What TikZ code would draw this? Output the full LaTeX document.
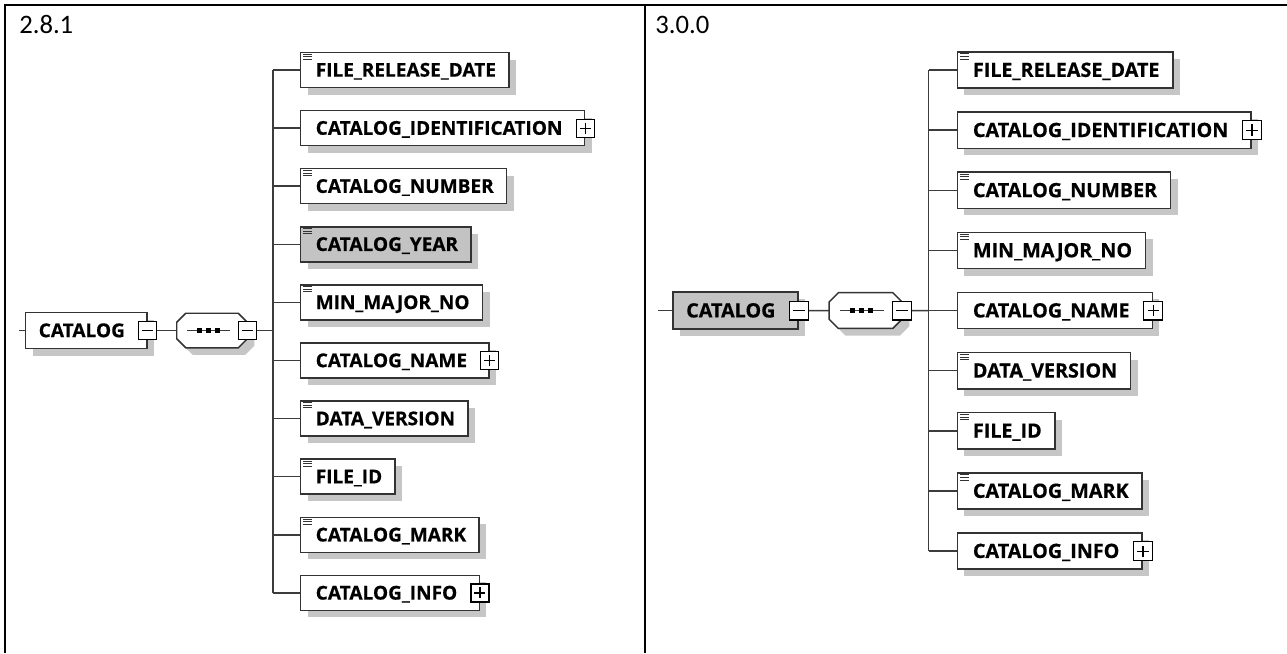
\documentclass[tikz,border=0pt]{standalone}
\usepackage{fontspec}
\setmainfont{Carlito}
\newfontfamily\boxfont{Open Sans}[BoldFeatures={FakeBold=0.5}]
\usetikzlibrary{shadows}
\definecolor{bordc}{HTML}{333333}
\definecolor{connc}{HTML}{3C3C3C}
\definecolor{shadc}{HTML}{C6C6C6}
\definecolor{greyfill}{HTML}{C3C3C3}
\tikzset{
  conn/.style={draw=connc, line width=1.1pt},
  myshadow/.style={drop shadow={shadow xshift=5.25pt, shadow yshift=-5.25pt, fill=shadc, opacity=1, draw=none}},
  elem/.style={draw=bordc, line width=1.1pt, fill=white, anchor=west, inner xsep=0pt, inner ysep=0pt,
    minimum height=26.25pt, text height=10pt, text depth=0pt,
    font=\boxfont\bfseries\fontsize{14.3}{16}\selectfont, myshadow},
  iconbox/.style={draw=black, line width=0.9pt, fill=white, minimum size=13.5pt, inner sep=0pt},
  iconsign/.style={draw=black, line width=0.9pt},
  leafln/.style={draw=bordc, line width=0.6pt},
  seqbox/.style={rectangle, minimum width=52.5pt, minimum height=25.5pt, inner sep=0pt},
  octo/.style={draw=bordc, line width=1.1pt, fill=white},
  octoshadow/.style={fill=shadc},
  frameln/.style={draw=black, line width=1.5pt},
  title/.style={anchor=base west, font=\fontsize{20}{24}\selectfont, inner sep=0pt},
}
\newcommand\minusmark[1]{%
  \node[iconbox] (#1-m) at (#1.east) {};
  \draw[iconsign] ([shift={(-5.5,0)}]#1-m.center) -- ([shift={(5.5,0)}]#1-m.center);}
\newcommand\plusmark[1]{%
  \node[iconbox] (#1-p) at (#1.east) {};
  \draw[iconsign] ([shift={(-5.5,0)}]#1-p.center) -- ([shift={(5.5,0)}]#1-p.center)
                  ([shift={(0,-5.5)}]#1-p.center) -- ([shift={(0,5.5)}]#1-p.center);}
\newcommand\leafmark[1]{%
  \foreach \d in {2.5,5,7.5}{\draw[leafln] ([shift={(3,\d)}]#1.north west) -- ++(9,0);}}
\newcommand\leafel[4]{%
  \node[elem, fill=#4] (#1) at (300,#2) {\hspace*{11.25pt}#3\hspace*{9.75pt}};
  \leafmark{#1}}
\newcommand\plusel[3]{%
  \node[elem] (#1) at (300,#2) {\hspace*{11.25pt}#3\hspace*{16.5pt}};
  \plusmark{#1}}
% octagon outline around a named node, shifted by (#2,#3)
\newcommand\octopath[3]{%
  ([shift={(9+#2,#3)}]#1.north west) -- ([shift={(-9+#2,#3)}]#1.north east) --
  ([shift={(#2,9+#3)}]#1.north east) -- ([shift={(#2,-9+#3)}]#1.south east) --
  ([shift={(-9+#2,#3)}]#1.south east) -- ([shift={(9+#2,#3)}]#1.south west) --
  ([shift={(#2,-9+#3)}]#1.south west) -- ([shift={(#2,9+#3)}]#1.north west) -- cycle}
\newcommand\seqdraw[1]{%
  \fill[octoshadow] \octopath{#1}{7}{7};
  \draw[octo] \octopath{#1}{0}{0};
  \draw[conn] ([shift={(-25,0)}]#1.center) -- ([shift={(18,0)}]#1.center);
  \foreach \dx in {-13,-4,5}{\fill[black] ([shift={(\dx-2.5,-2.5)}]#1.center) rectangle ([shift={(\dx+2.5,2.5)}]#1.center);}}

\begin{document}
\begin{tikzpicture}[x=0.75pt,y=-0.75pt]
\useasboundingbox (0,0) rectangle (1287,653);
\draw[frameln] (4,5) -- (1287,5);
\draw[frameln] (5,5) -- (5,653);
\draw[frameln] (645,5) -- (645,653);
\node[title] (t1) at (19,33) {2.8.1};
\node[title] (t2) at (655,33) {3.0.0};

% ---------- left panel (2.8.1)
\coordinate (lbus) at (273,330.5);
\coordinate (lstub) at (19,330.5);
\node[elem, minimum height=27pt] (lroot) at (25,330.5) {\hspace*{9.75pt}CATALOG\hspace*{16.5pt}};
\minusmark{lroot}
\node[seqbox] (lseq) at (212,330.5) {};
\seqdraw{lseq}
\minusmark{lseq}
\draw[conn] (lstub) -- (lroot.west);
\draw[conn] (lroot-m.east) -- (lseq.west);
\draw[conn] (lseq-m.east) -- (lbus);

\leafel{l1}{70}{FILE\_RELEASE\_DATE}{white}
\plusel{l2}{128.1}{CATALOG\_IDENTIFICATION}
\leafel{l3}{186.2}{CATALOG\_NUMBER}{white}
\leafel{l4}{244.3}{CATALOG\_YEAR}{greyfill}
\leafel{l5}{302.4}{MIN\_MAJOR\_NO}{white}
\plusel{l6}{360.5}{CATALOG\_NAME}
\leafel{l7}{418.6}{DATA\_VERSION}{white}
\leafel{l8}{476.7}{FILE\_ID}{white}
\leafel{l9}{534.8}{CATALOG\_MARK}{white}
\plusel{l10}{592.9}{CATALOG\_INFO}
\draw[conn] (l1.west -| lbus) -- (l10.west -| lbus);
\foreach \n in {l1,l2,l3,l4,l5,l6,l7,l8,l9,l10}{\draw[conn] (\n.west -| lbus) -- (\n.west);}

% ---------- right panel (3.0.0)
\begin{scope}[shift={(646.125,-2.45)}, scale=1.035, transform shape]
\coordinate (rbus) at (273,302.4);
\coordinate (rstub) at (11.5,302.4);
\node[elem, fill=greyfill, minimum height=27pt] (rroot) at (25,302.4) {\hspace*{9.75pt}CATALOG\hspace*{16.5pt}};
\minusmark{rroot}
\node[seqbox] (rseq) at (212,302.4) {};
\seqdraw{rseq}
\minusmark{rseq}
\draw[conn] (rstub) -- (rroot.west);
\draw[conn] (rroot-m.east) -- (rseq.west);
\draw[conn] (rseq-m.east) -- (rbus);

\leafel{r1}{70}{FILE\_RELEASE\_DATE}{white}
\plusel{r2}{128.1}{CATALOG\_IDENTIFICATION}
\leafel{r3}{186.2}{CATALOG\_NUMBER}{white}
\leafel{r4}{244.3}{MIN\_MAJOR\_NO}{white}
\plusel{r5}{302.4}{CATALOG\_NAME}
\leafel{r6}{360.5}{DATA\_VERSION}{white}
\leafel{r7}{418.6}{FILE\_ID}{white}
\leafel{r8}{476.7}{CATALOG\_MARK}{white}
\plusel{r9}{534.8}{CATALOG\_INFO}
\draw[conn] (r1.west -| rbus) -- (r9.west -| rbus);
\foreach \n in {r1,r2,r3,r4,r5,r6,r7,r8,r9}{\draw[conn] (\n.west -| rbus) -- (\n.west);}
\end{scope}
\end{tikzpicture}
\end{document}
